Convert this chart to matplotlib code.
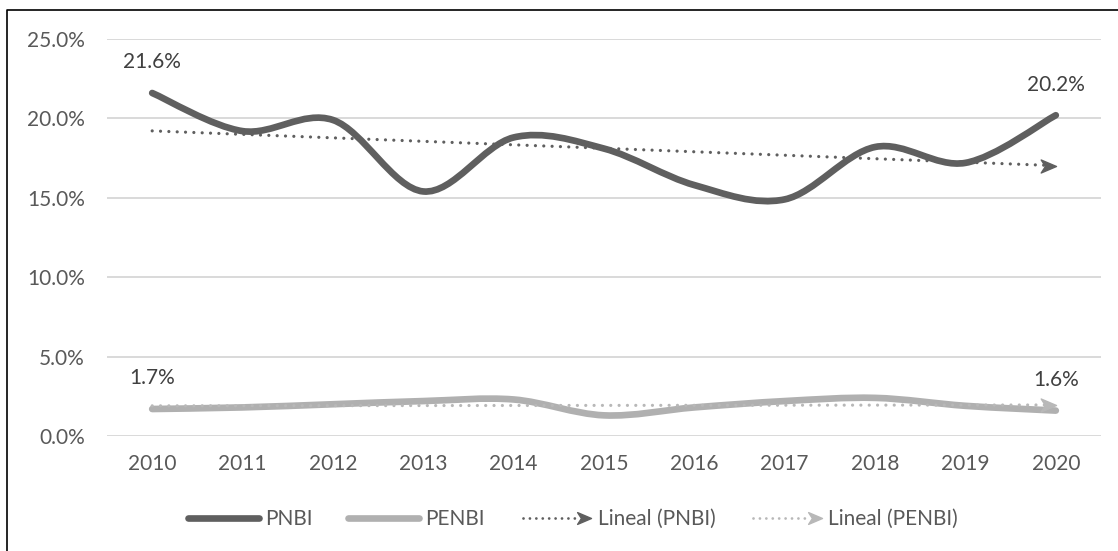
import numpy as np
import matplotlib
matplotlib.use("Agg")
import matplotlib.pyplot as plt
from matplotlib.path import Path
from matplotlib.patches import PathPatch
from matplotlib.lines import Line2D
from matplotlib.legend_handler import HandlerBase

plt.rcParams['font.family'] = ['Lato', 'DejaVu Sans']

years = ['2010', '2011', '2012', '2013', '2014', '2015', '2016', '2017', '2018', '2019', '2020']
pnbi = [21.6, 19.2, 19.9, 15.4, 18.8, 18.1, 15.8, 14.9, 18.2, 17.2, 20.2]
penbi = [1.7, 1.8, 2.0, 2.2, 2.3, 1.3, 1.8, 2.2, 2.4, 1.9, 1.6]
y_ticks = [0, 5, 10, 15, 20, 25]
series_names = ['PNBI', 'PENBI', 'Lineal (PNBI)', 'Lineal (PENBI)']

C_DARK = '#5f5f5f'
C_LIGHT = '#b0b0b0'
C_LIGHT_TR = '#b8b8b8'
C_TEXT = '#595959'
FS = 15

W, H = 1118, 551
fig = plt.figure(figsize=(W / 100, H / 100), dpi=100)
ax = fig.add_axes([107 / W, 1 - 436 / H, (1101 - 107) / W, (436 - 39) / H])
ax.set_xlim(-0.5, len(years) - 0.5)
ax.set_ylim(0, 25)
for s in ax.spines.values():
    s.set_visible(False)
ax.set_yticks(y_ticks)
ax.set_yticklabels([f'{v:.1f}%' for v in y_ticks])
ax.set_xticks(range(len(years)))
ax.set_xticklabels(years)
ax.tick_params(axis='both', length=0, labelsize=FS, colors=C_TEXT)
ax.tick_params(axis='y', pad=16)
ax.tick_params(axis='x', pad=13)
ax.grid(axis='y', color='#d9d9d9', lw=1.4)
ax.set_axisbelow(True)


def smooth_path(xs, ys):
    pts = np.column_stack([xs, ys]).astype(float)
    n = len(pts)
    verts = [pts[0]]
    codes = [Path.MOVETO]
    for i in range(n - 1):
        p0 = pts[i - 1] if i > 0 else pts[i]
        p1 = pts[i]
        p2 = pts[i + 1]
        p3 = pts[i + 2] if i + 2 < n else pts[i + 1]
        c1 = p1 + (p2 - p0) / 6.0
        c2 = p2 - (p3 - p1) / 6.0
        verts += [c1, c2, p2]
        codes += [Path.CURVE4] * 3
    return Path(verts, codes)


xs = np.arange(len(years))
for vals, col in [(pnbi, C_DARK), (penbi, C_LIGHT)]:
    patch = PathPatch(smooth_path(xs, vals), facecolor='none', edgecolor=col,
                      lw=4.8, capstyle='round', joinstyle='round', zorder=3)
    ax.add_patch(patch)

arrow = Path([(0, 0), (-2.0, -0.85), (-1.45, 0), (-2.0, 0.85), (0, 0)],
             [Path.MOVETO, Path.LINETO, Path.LINETO, Path.LINETO, Path.CLOSEPOLY])

DOTS = (0, (0.01, 2.6))
for vals, col in [(pnbi, C_DARK), (penbi, C_LIGHT_TR)]:
    k, b = np.polyfit(xs, vals, 1)
    xe = np.array([xs[0], xs[-1] - 0.1])
    ax.plot(xe, k * xe + b, color=col, lw=2.3, linestyle=DOTS,
            dash_capstyle='round', zorder=4)
    ax.plot([xs[-1]], [k * xs[-1] + b], marker=arrow, markersize=22,
            color=col, linestyle='none', zorder=4)

# data labels
for vals in (pnbi, penbi):
    for i in (0, len(vals) - 1):
        ax.annotate(f'{vals[i]:.1f}%', (xs[i], vals[i]), xytext=(0, 22),
                    textcoords='offset points', ha='center', va='center',
                    fontsize=FS, color='#404040')

# chart border (left and top)
fig.add_artist(Line2D([7 / W, 7 / W, 1.0], [0.0, 1 - 10 / H, 1 - 10 / H],
                      transform=fig.transFigure, color='black', lw=1.2))


class TrendHandler(HandlerBase):
    def create_artists(self, legend, orig_handle, xdescent, ydescent, width,
                       height, fontsize, trans):
        col = orig_handle.get_color()
        y = height / 2 - ydescent
        x0 = -xdescent
        x1 = width - xdescent
        line = Line2D([x0 + 2, x1 - 10], [y, y], color=col, lw=2.0,
                      linestyle=(0, (0.01, 2.3)), dash_capstyle='round')
        head = Line2D([x1], [y], marker=arrow, markersize=20, color=col,
                      linestyle='none')
        line.set_transform(trans)
        head.set_transform(trans)
        return [line, head]


h1 = Line2D([], [], color=C_DARK, lw=4.8, solid_capstyle='round')
h2 = Line2D([], [], color=C_LIGHT, lw=4.8, solid_capstyle='round')
h3 = Line2D([], [], color=C_DARK)
h4 = Line2D([], [], color=C_LIGHT_TR)
th = TrendHandler()
fig.legend([h1, h2, h3, h4], series_names, loc='center',
           bbox_to_anchor=(573 / W, 1 - 519 / H), ncol=4, frameon=False,
           fontsize=FS, labelcolor=C_TEXT, handlelength=3.4,
           handletextpad=0.3, columnspacing=1.7,
           handler_map={h3: th, h4: th})

fig.savefig('out.png', dpi=100)
